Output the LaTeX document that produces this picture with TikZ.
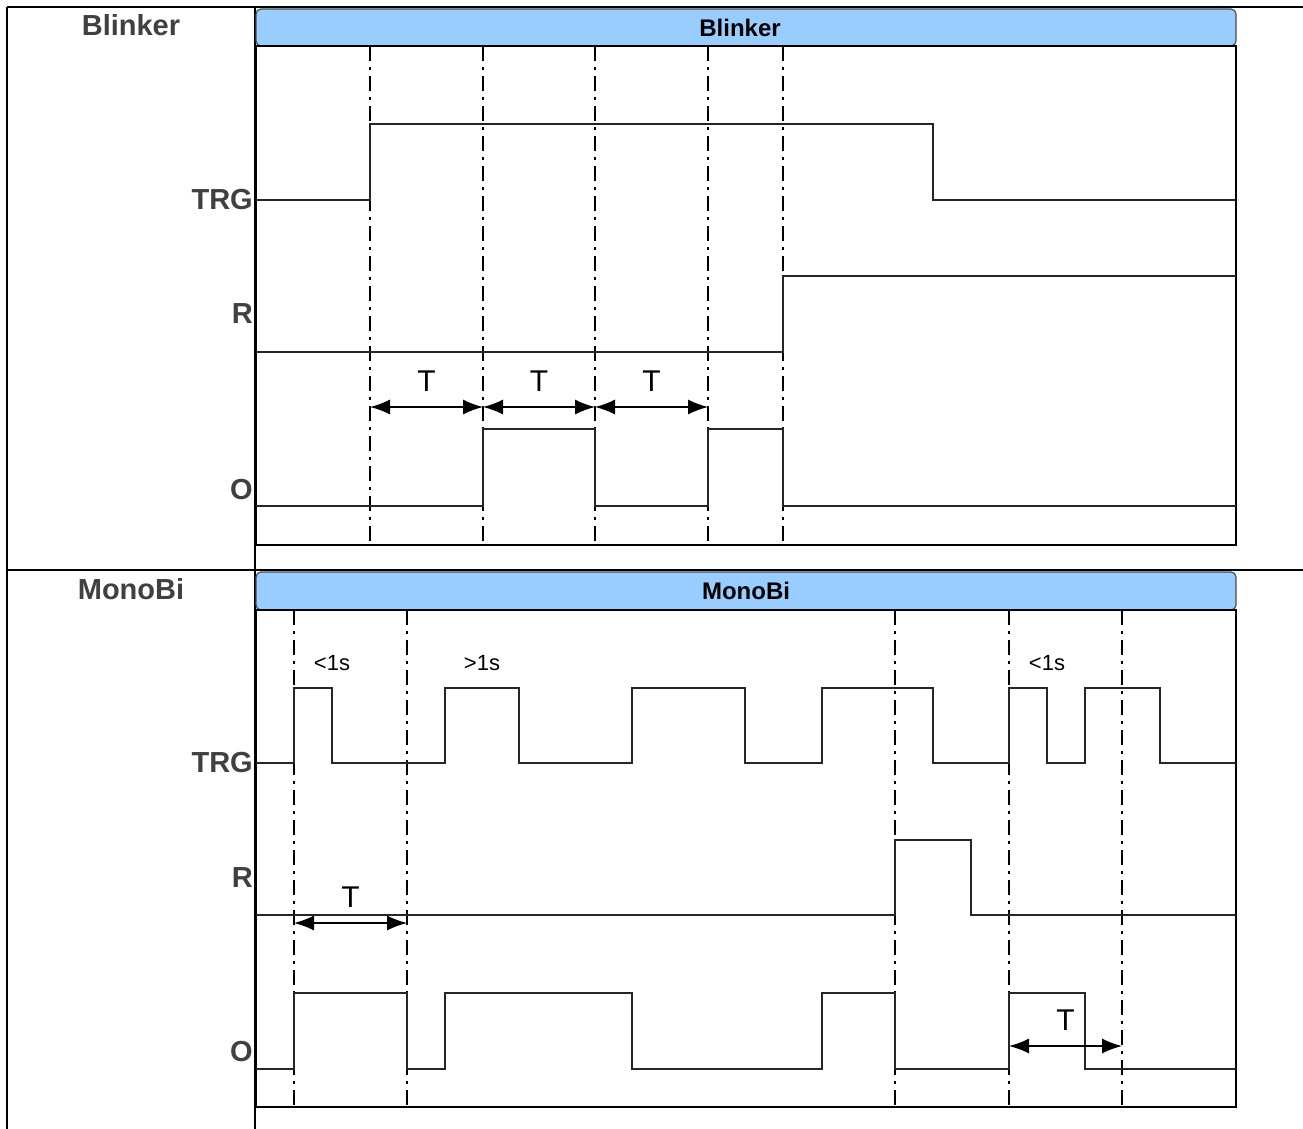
\documentclass[tikz,border=0pt]{standalone}
\usepackage{fontspec}
\setmainfont{Liberation Sans}
\usetikzlibrary{arrows.meta,positioning,calc}
\definecolor{barfill}{HTML}{99CCFF}
\definecolor{labelgray}{HTML}{404040}

\begin{document}
\begin{tikzpicture}[x=1pt, y=-1pt,
  grid/.style={line width=2.4pt, black},
  frame/.style={line width=1.8pt, black},
  sig/.style={line width=1.6pt, black!85},
  marker/.style={line width=1.4pt, black, dash pattern=on 15pt off 6pt on 3pt off 6pt},
  titlebar/.style={draw=black!70, line width=1.2pt, fill=barfill, rounded corners=5pt, minimum width=980pt, minimum height=37pt, inner sep=0pt, font=\fontsize{24}{26}\selectfont\bfseries},
  rowname/.style={font=\fontsize{29}{32}\selectfont\bfseries, text=labelgray, inner sep=0pt},
  signame/.style={rowname, anchor=east},
  span/.style={{Latex[length=20pt,width=15pt]}-{Latex[length=20pt,width=15pt]}, line width=1.4pt},
  dur/.style={font=\fontsize{30}{32}\selectfont, inner sep=0pt},
  note/.style={font=\fontsize{22}{24}\selectfont, inner sep=0pt}
]
  \useasboundingbox (0,0) rectangle (1303,1129);

  % table lines
  \draw[grid] (7,7) -- (1303,7);
  \draw[grid] (7,570) -- (1303,570);
  \draw[grid] (7,7) -- (7,1129);
  \draw[grid] (255,7) -- (255,1129);

  \node[rowname] (blinkname) at (131,25) {Blinker};
  \node[rowname] (mononame) at (131,589) {MonoBi};

  % Blinker panel
  \node[titlebar] (blinkbar) at (746,27.5) {\hspace*{-12pt}Blinker};
  \draw[frame] (256,46) rectangle (1236,545);
  \foreach \x in {370,483,595,708,783}
    \draw[marker] (\x,46) -- (\x,545);

  \node[signame] (trgA) at (253,200) {TRG};
  \node[signame] (rA) at (253,314) {R};
  \node[signame] (oA) at (253,490) {O};

  \draw[sig] (256,200) -- (370,200) -- (370,124) -- (933,124) -- (933,200) -- (1236,200);
  \draw[sig] (256,352) -- (783,352) -- (783,276) -- (1236,276);
  \draw[sig] (256,506) -- (483,506) -- (483,429) -- (595,429) -- (595,506)
    -- (708,506) -- (708,429) -- (783,429) -- (783,506) -- (1236,506);

  \coordinate (ta0) at (370,407);
  \coordinate (ta1) at (483,407);
  \coordinate (ta2) at (595,407);
  \coordinate (ta3) at (708,407);
  \draw[span] (ta0) -- node[dur, above=15pt] (tlA) {T} (ta1);
  \draw[span] (ta1) -- node[dur, above=15pt] (tlB) {T} (ta2);
  \draw[span] (ta2) -- node[dur, above=15pt] (tlC) {T} (ta3);

  % MonoBi panel
  \node[titlebar, minimum height=38pt] (monobar) at (746,591) {MonoBi};
  \draw[frame] (256,610) rectangle (1236,1107);
  \foreach \x in {294,407,895,1009,1122}
    \draw[marker] (\x,610) -- (\x,1107);

  \node[signame] (trgB) at (253,763) {TRG};
  \node[signame] (rB) at (253,878) {R};
  \node[signame] (oB) at (253,1052) {O};

  \node[note] (shortA) at (332,663) {<1s};
  \node[note] (longA) at (482,663) {>1s};
  \node[note] (shortB) at (1047,663) {<1s};

  \draw[sig] (256,763) -- (294,763) -- (294,688) -- (332,688) -- (332,763)
    -- (445,763) -- (445,688) -- (519,688) -- (519,763)
    -- (632,763) -- (632,688) -- (745,688) -- (745,763)
    -- (822,763) -- (822,688) -- (933,688) -- (933,763)
    -- (1009,763) -- (1009,688) -- (1047,688) -- (1047,763)
    -- (1085,763) -- (1085,688) -- (1160,688) -- (1160,763) -- (1236,763);
  \draw[sig] (256,915) -- (895,915) -- (895,840) -- (971,840) -- (971,915) -- (1236,915);
  \draw[sig] (256,1069) -- (294,1069) -- (294,993) -- (407,993) -- (407,1069)
    -- (445,1069) -- (445,993) -- (632,993) -- (632,1069)
    -- (822,1069) -- (822,993) -- (895,993) -- (895,1069)
    -- (1009,1069) -- (1009,993) -- (1085,993) -- (1085,1069) -- (1236,1069);

  \coordinate (tb0) at (294,923);
  \coordinate (tb1) at (407,923);
  \coordinate (tc0) at (1009,1046);
  \coordinate (tc1) at (1122,1046);
  \draw[span] (tb0) -- node[dur, above=15pt] (tlD) {T} (tb1);
  \draw[span] (tc0) -- node[dur, above=15pt] (tlE) {T} (tc1);
\end{tikzpicture}
\end{document}
